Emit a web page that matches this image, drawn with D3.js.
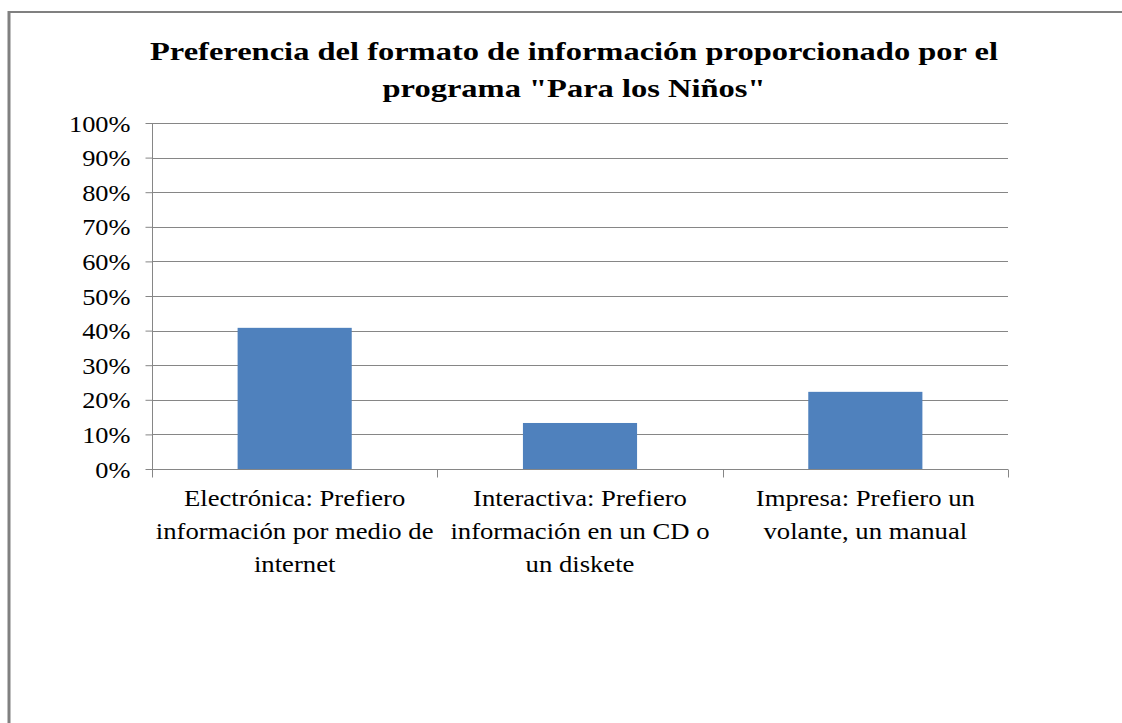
<!DOCTYPE html>
<meta charset="utf-8">
<title>Preferencia del formato</title>
<script src="https://cdn.jsdelivr.net/npm/d3@7"></script>
<style>
  body { margin: 0; background: #fff; }
  svg { display: block; }
  .tick text { font-family: "Liberation Serif", "Times New Roman", serif; }
</style>
<body>
<div id="chart"></div>
<script>
  // data
  var categories = ["electronica", "interactiva", "impresa"];
  var catLines = [
    ["Electrónica: Prefiero", "información por medio de", "internet"],
    ["Interactiva: Prefiero", "información en un CD o", "un diskete"],
    ["Impresa: Prefiero un", "volante, un manual"]
  ];
  var values = [0.408, 0.133, 0.223];
  var yTicks = [0, 0.1, 0.2, 0.3, 0.4, 0.5, 0.6, 0.7, 0.8, 0.9, 1.0];
  var titleLines = ["Preferencia del formato de información proporcionado por el", "programa \"Para los Niños\""];

  var W = 1122, H = 723;
  var margin = { top: 123, right: 114, bottom: 254, left: 152 };
  var width = W - margin.left - margin.right,
    height = H - margin.top - margin.bottom;

  var svg = d3.select("#chart").append("svg")
    .attr("width", W)
    .attr("height", H);

  // outer frame (only top and left edges visible)
  svg.append("line").attr("x1", 8).attr("x2", W).attr("y1", 12).attr("y2", 12)
    .attr("stroke", "#808080").attr("stroke-width", 2);
  svg.append("line").attr("x1", 9).attr("x2", 9).attr("y1", 11).attr("y2", H)
    .attr("stroke", "#808080").attr("stroke-width", 3);

  // title
  var title = svg.append("g");
  title.selectAll("text")
    .data(titleLines)
    .enter().append("text")
    .attr("transform", function (d, i) { return "translate(574," + (60 + i * 37) + ") scale(1.25,1)"; })
    .attr("text-anchor", "middle")
    .style("font-family", "'Liberation Serif', 'Times New Roman', serif")
    .style("font-weight", "bold")
    .style("font-size", "26px")
    .text(function (d) { return d; });

  var g = svg.append("g")
    .attr("transform", "translate(" + margin.left + "," + margin.top + ")");

  var x = d3.scaleBand().domain(categories).range([0, width]).paddingInner(0).paddingOuter(0);
  var y = d3.scaleLinear().domain([0, 1]).range([height, 0]);

  // gridlines
  g.append("g")
    .selectAll("line")
    .data(yTicks)
    .enter().append("line")
    .attr("x1", 0).attr("x2", width)
    .attr("y1", function (d) { return Math.round(y(d)) + 0.5; })
    .attr("y2", function (d) { return Math.round(y(d)) + 0.5; })
    .attr("stroke", "#868686");

  // y axis
  var yAxis = g.append("g")
    .attr("transform", "translate(0.5,0)")
    .call(d3.axisLeft(y).tickValues(yTicks).tickFormat(d3.format(".0%")).tickSize(7).tickPadding(7));
  yAxis.selectAll("path, line").attr("stroke", "#868686");
  yAxis.select(".domain").attr("d", "M0," + height + "V0");
  yAxis.selectAll(".tick text")
    .style("font-size", "24px")
    .attr("fill", "#000")
    .attr("transform", "scale(1.1,1)")
    .attr("x", -22 / 1.1)
    .attr("dy", "0.34em");

  // bars (gap width 150%)
  var barW = x.bandwidth() / 2.5;
  g.append("g")
    .selectAll("rect")
    .data(values)
    .enter().append("rect")
    .attr("x", function (d, i) { return x(categories[i]) + (x.bandwidth() - barW) / 2; })
    .attr("width", barW)
    .attr("y", function (d) { return y(d); })
    .attr("height", function (d) { return height - y(d); })
    .attr("fill", "#4F81BD");

  // x axis
  var xAxis = g.append("g")
    .attr("transform", "translate(0," + (height + 0.5) + ")");
  xAxis.append("line").attr("x1", 0).attr("x2", width).attr("stroke", "#868686");
  var bounds = categories.map(function (c) { return x(c); }).concat([width]);
  xAxis.selectAll(".cat-tick")
    .data(bounds)
    .enter().append("line")
    .attr("class", "cat-tick")
    .attr("x1", function (d) { return Math.round(d) + 0.5; })
    .attr("x2", function (d) { return Math.round(d) + 0.5; })
    .attr("y1", 0).attr("y2", 8)
    .attr("stroke", "#868686");

  var labels = xAxis.selectAll(".cat-label")
    .data(categories)
    .enter().append("g")
    .attr("class", "cat-label")
    .attr("transform", function (d) { return "translate(" + (x(d) + x.bandwidth() / 2) + ",0)"; });
  labels.selectAll("text")
    .data(function (d, i) { return catLines[i]; })
    .enter().append("text")
    .attr("transform", function (d, i) { return "translate(0," + (36 + i * 33) + ") scale(1.16,1)"; })
    .attr("text-anchor", "middle")
    .style("font-family", "'Liberation Serif', 'Times New Roman', serif")
    .style("font-size", "23px")
    .text(function (d) { return d; });
</script>
</body>
